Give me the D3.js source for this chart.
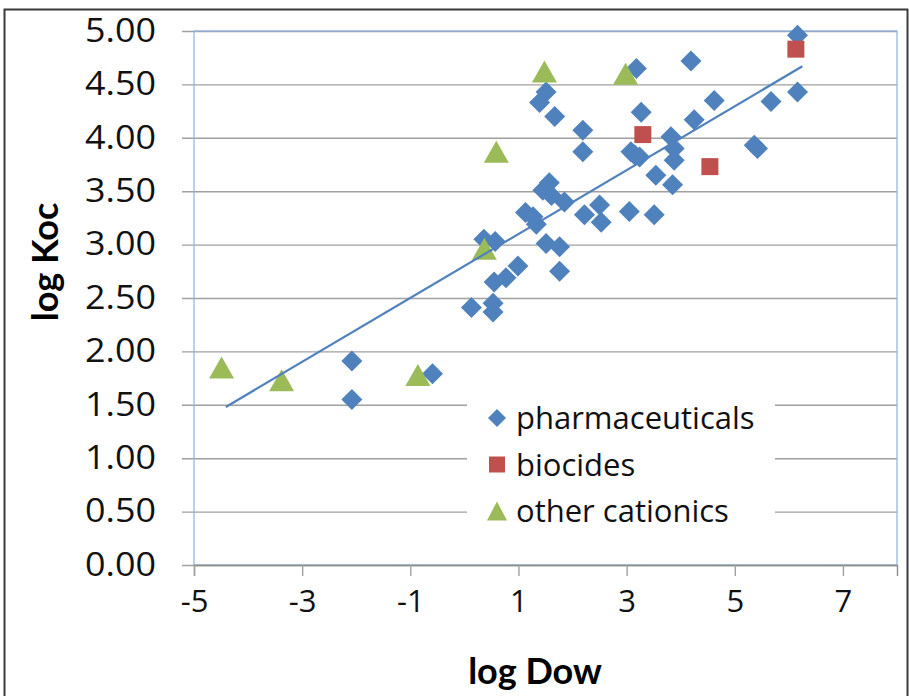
<!DOCTYPE html>
<html>
<head>
<meta charset="utf-8">
<script src="https://cdn.jsdelivr.net/npm/d3@7"></script>
<style>
  body { margin: 0; background: #fff; }
  svg { display: block; }
</style>
</head>
<body>
<div id="chart"></div>
<script>
// log Dow / log Koc values
var pharmaX = [-2.08, -2.08, -0.59, 0.13, 0.53, 0.53, 0.55, 0.77, 0.99, 0.36, 0.57,
	1.13, 1.27, 1.33, 1.45, 1.57, 1.61, 1.85, 1.51, 1.76, 1.76, 2.22, 2.50, 2.53,
	1.51, 1.39, 1.67, 2.19, 2.19, 3.18, 4.19, 3.27, 3.08, 3.24, 3.15, 3.82, 3.88,
	3.88, 3.54, 3.85, 4.25, 4.62, 3.05, 3.51, 5.36, 5.42, 5.67, 6.16, 6.16];
var pharmaY = [1.91, 1.55, 1.79, 2.41, 2.45, 2.37, 2.65, 2.69, 2.80, 3.05, 3.03,
	3.30, 3.26, 3.19, 3.51, 3.58, 3.46, 3.40, 3.01, 2.98, 2.75, 3.28, 3.37, 3.21,
	4.43, 4.33, 4.20, 4.07, 3.87, 4.65, 4.72, 4.24, 3.87, 3.82, 3.84, 4.01, 3.90,
	3.79, 3.65, 3.56, 4.17, 4.35, 3.31, 3.28, 3.93, 3.90, 4.34, 4.43, 4.96];
var biocideX = [3.30, 4.54, 6.13];
var biocideY = [4.03, 3.73, 4.83];
var cationX = [-4.49, -3.38, -0.86, 0.37, 0.59, 1.48, 2.98];
var cationY = [1.85, 1.73, 1.78, 2.96, 3.87, 4.62, 4.60];
var trendX = [-4.41, 6.25];
var trendY = [1.48, 4.67];
var xTicks = [-5, -3, -1, 1, 3, 5, 7];
var yTicks = [0, 0.5, 1, 1.5, 2, 2.5, 3, 3.5, 4, 4.5, 5];
var seriesNames = ["pharmaceuticals", "biocides", "other cationics"];

var blue = "#4f81bd", red = "#c0504d", green = "#9bbb59";

var width = 909, height = 696;
var svg = d3.select("#chart").append("svg")
	.attr("width", width)
	.attr("height", height);

svg.append("rect").attr("width", width).attr("height", height).style("fill", "#fff");
// outer frame
svg.append("rect")
	.attr("x", 4.5).attr("y", 9.5).attr("width", 903).attr("height", 700)
	.style("fill", "none").style("stroke", "#3a3a3a").style("stroke-width", 2);

var x = d3.scaleLinear().domain([-5, 8]).range([194, 897]);
var y = d3.scaleLinear().domain([0, 5]).range([565, 31]);

// horizontal gridlines + outside tick marks
svg.append("g")
	.attr("transform", "translate(" + x(-5) + ",0)")
	.call(d3.axisLeft(y).tickValues(yTicks).tickSize(-(x(8) - x(-5))).tickFormat(""))
	.call(function(g) { g.select(".domain").remove(); })
	.selectAll("line").style("stroke", "#a0a0a0").style("stroke-width", 1.4)
		.attr("x1", -12);

// plot area border
svg.append("rect")
	.attr("x", x(-5)).attr("y", y(5)).attr("width", x(8) - x(-5)).attr("height", y(0) - y(5))
	.style("fill", "none").style("stroke", "#8db3e2").style("stroke-width", 1.2);

// x axis (plain hyphen for negatives)
var xAxis = svg.append("g")
	.attr("transform", "translate(0," + y(0) + ")")
	.call(d3.axisBottom(x).tickValues(xTicks).tickSize(11).tickPadding(14)
		.tickFormat(function(d) { return String(d); }));
xAxis.select(".domain").style("stroke", "#8c8c8c").style("stroke-width", 1.4);
xAxis.selectAll("line").style("stroke", "#a0a0a0").style("stroke-width", 1.4);
xAxis.selectAll("text")
	.style("font-family", "'Open Sans', sans-serif").style("font-size", "31px").style("fill", "#111");

// y tick labels, a bit wider like the original
var yAxis = svg.append("g")
	.attr("transform", "translate(" + x(-5) + ",0)")
	.call(d3.axisLeft(y).tickValues(yTicks).tickSize(0).tickPadding(38).tickFormat(d3.format(".2f")));
yAxis.select(".domain").remove();
yAxis.selectAll("text")
	.attr("textLength", 71).attr("lengthAdjust", "spacingAndGlyphs")
	.style("font-family", "'Open Sans', sans-serif").style("font-size", "32px").style("fill", "#111");

// axis titles
svg.append("text")
	.attr("x", 535).attr("y", 684)
	.style("text-anchor", "middle")
	.style("font-family", "Lato, sans-serif").style("font-weight", 700).style("font-size", "36px")
	.text("log Dow");
svg.append("text")
	.attr("transform", "translate(58,262) rotate(-90)")
	.style("text-anchor", "middle")
	.style("font-family", "Lato, sans-serif").style("font-weight", 700).style("font-size", "36px")
	.text("log Koc");

// marker shapes
function diamond(s) { return "M0," + (-s) + "L" + s + ",0L0," + s + "L" + (-s) + ",0Z"; }
function square(s) { return "M" + (-s) + "," + (-s) + "h" + (2 * s) + "v" + (2 * s) + "h" + (-2 * s) + "Z"; }
function triangle(w, h) { return "M0," + (-h) + "L" + w + "," + h + "L" + (-w) + "," + h + "Z"; }

function zip(xs, ys) { return xs.map(function(v, i) { return [v, ys[i]]; }); }

svg.selectAll(".pharma")
	.data(zip(pharmaX, pharmaY))
	.enter().append("path")
		.attr("class", "pharma")
		.attr("transform", function(d) { return "translate(" + x(d[0]) + "," + y(d[1]) + ")"; })
		.attr("d", diamond(10.5))
		.style("fill", blue);

svg.selectAll(".biocide")
	.data(zip(biocideX, biocideY))
	.enter().append("path")
		.attr("class", "biocide")
		.attr("transform", function(d) { return "translate(" + x(d[0]) + "," + y(d[1]) + ")"; })
		.attr("d", square(8.5))
		.style("fill", red);

svg.selectAll(".cation")
	.data(zip(cationX, cationY))
	.enter().append("path")
		.attr("class", "cation")
		.attr("transform", function(d) { return "translate(" + x(d[0]) + "," + y(d[1]) + ")"; })
		.attr("d", triangle(12.5, 11))
		.style("fill", green);

// trendline
svg.append("path")
	.datum(zip(trendX, trendY))
	.attr("d", d3.line().x(function(d) { return x(d[0]); }).y(function(d) { return y(d[1]); }))
	.style("fill", "none").style("stroke", blue).style("stroke-width", 2.2);

// legend
var legend = svg.append("g");
legend.append("rect")
	.attr("x", 467).attr("y", 394).attr("width", 308).attr("height", 142)
	.style("fill", "#fff");
var legendShapes = [diamond(9), square(8), triangle(10, 9.5)];
var legendColors = [blue, red, green];
seriesNames.forEach(function(name, i) {
	var ly = 418 + i * 46.5;
	legend.append("path")
		.attr("transform", "translate(497," + ly + ")")
		.attr("d", legendShapes[i])
		.style("fill", legendColors[i]);
	legend.append("text")
		.attr("x", 516).attr("y", ly).attr("dy", "0.36em")
		.style("font-family", "'Open Sans', sans-serif").style("font-size", "31px").style("fill", "#111")
		.text(name);
});
</script>
</body>
</html>
